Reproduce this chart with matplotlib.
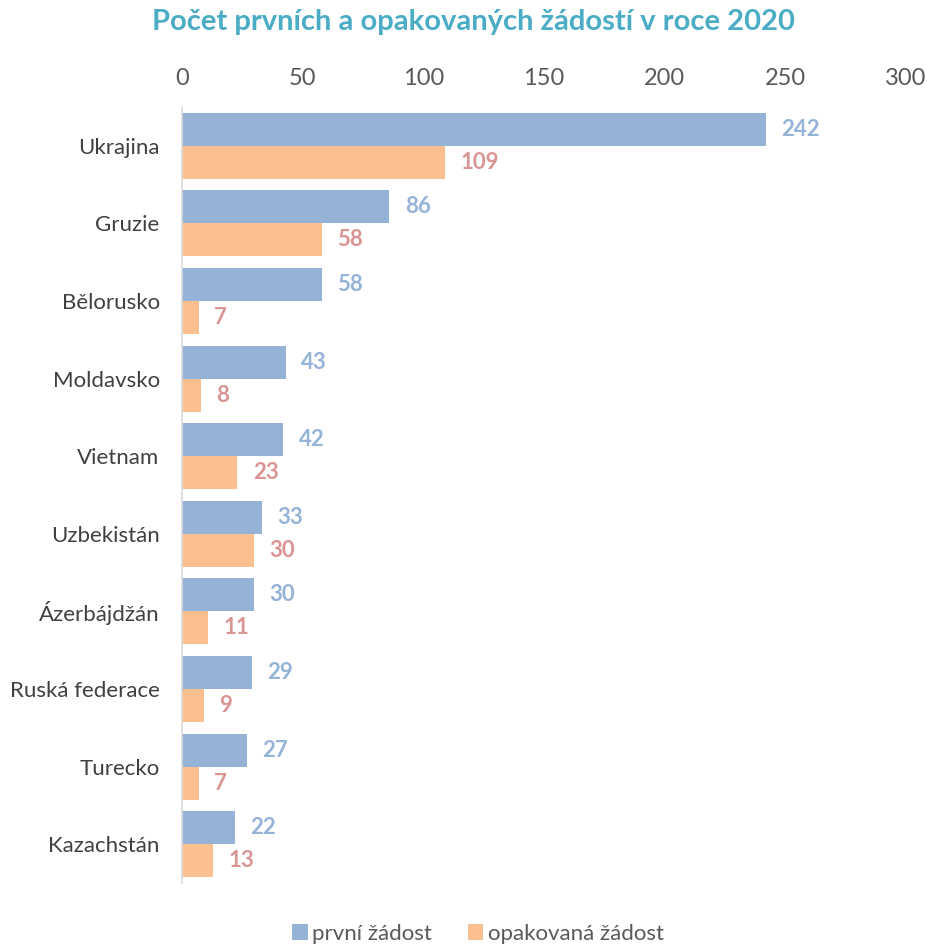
import matplotlib.pyplot as plt
import numpy as np

countries = ["Ukrajina", "Gruzie", "Bělorusko", "Moldavsko", "Vietnam",
             "Uzbekistán", "Ázerbájdžán", "Ruská federace", "Turecko", "Kazachstán"]
first_requests = [242, 86, 58, 43, 42, 33, 30, 29, 27, 22]
repeat_requests = [109, 58, 7, 8, 23, 30, 11, 9, 7, 13]
x_ticks = [0, 50, 100, 150, 200, 250, 300]

blue = "#95b3d7"
orange = "#fac090"
label_orange = "#d99594"
text_gray = "#595959"

plt.rcParams["font.family"] = ["Lato", "DejaVu Sans"]

fig = plt.figure(figsize=(9.28, 9.44), dpi=100)
ax = fig.add_axes([0.196, 0.0646, 0.78, 0.822])

y = np.arange(len(countries))
h = 0.425
ax.barh(y - h / 2, first_requests, height=h, color=blue, label="první žádost")
ax.barh(y + h / 2, repeat_requests, height=h, color=orange, label="opakovaná žádost")

for yi, v in zip(y, first_requests):
    ax.annotate(str(v), (v, yi - h / 2), xytext=(11, 0), textcoords="offset points",
                va="center", ha="left", fontsize=16, fontweight="bold", color=blue)
for yi, v in zip(y, repeat_requests):
    ax.annotate(str(v), (v, yi + h / 2), xytext=(11, 0), textcoords="offset points",
                va="center", ha="left", fontsize=16, fontweight="bold", color=label_orange)

ax.set_xlim(0, 300)
ax.set_ylim(len(countries) - 0.5, -0.5)
ax.set_xticks(x_ticks)
ax.xaxis.tick_top()
ax.tick_params(axis="x", length=0, labelsize=17, labelcolor=text_gray, pad=13)
ax.set_yticks(y)
ax.set_yticklabels(countries)
ax.tick_params(axis="y", length=0, labelsize=16, labelcolor="#404040", pad=16)

for side in ["top", "right", "bottom"]:
    ax.spines[side].set_visible(False)
ax.spines["left"].set_color("#d9d9d9")
ax.spines["left"].set_linewidth(1.2)

fig.text(0.51, 0.977, "Počet prvních a opakovaných žádostí v roce 2020", ha="center", va="center",
         fontsize=21, fontweight="bold", color="#4bacc6")

fig.legend(loc="center", bbox_to_anchor=(0.515, 0.011), ncol=2, frameon=False,
           fontsize=16, labelcolor=text_gray, handlelength=0.7, handleheight=0.7,
           handletextpad=0.2, columnspacing=1.6)

fig.savefig("out.png", dpi=100)
